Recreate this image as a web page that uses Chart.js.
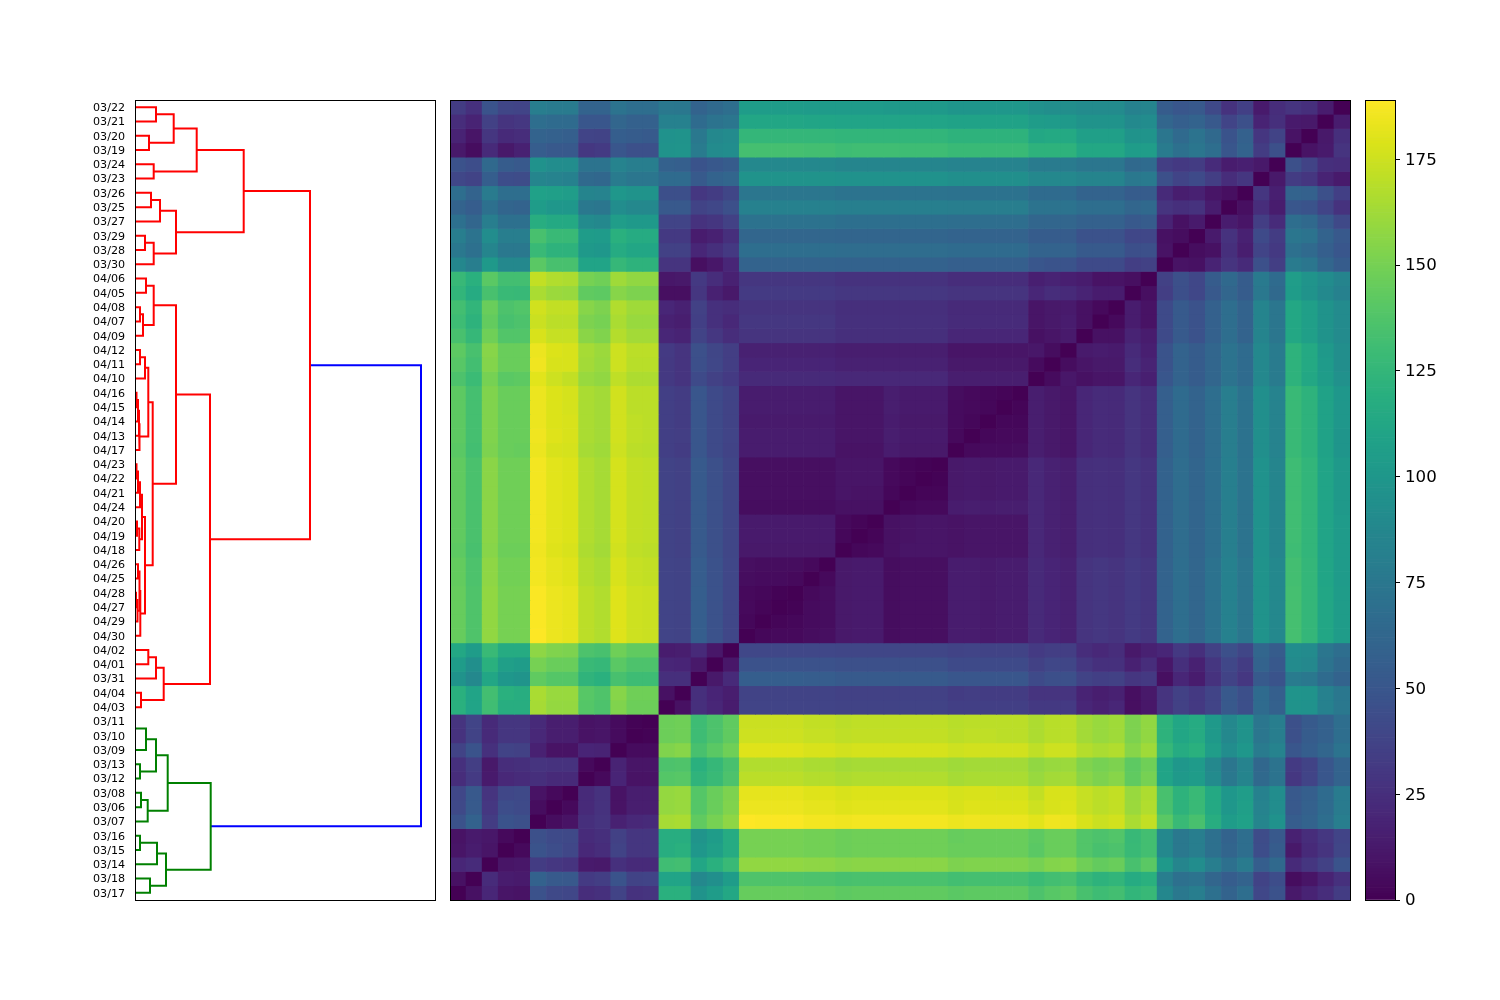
<!DOCTYPE html>
<html>
<head>
<meta charset="utf-8">
<script src="https://cdn.jsdelivr.net/npm/chart.js@4"></script>
<style>
html,body{margin:0;padding:0;background:#fff;width:1500px;height:1000px;overflow:hidden}
canvas{position:absolute;display:block}
</style>
</head>
<body>
<canvas id="dendro" width="351" height="802" style="left:85px;top:99px;width:351px;height:802px"></canvas>
<canvas id="heat" width="902" height="802" style="left:449px;top:99px;width:902px;height:802px"></canvas>
<canvas id="cbar" width="100" height="822" style="left:1364px;top:89px;width:100px;height:822px"></canvas>
<script>
// Leaf order, top to bottom. The heatmap's columns run through it in reverse.
const leaves = ["03/22","03/21","03/20","03/19","03/24","03/23","03/26","03/25","03/27","03/29","03/28","03/30","04/06","04/05","04/08","04/07","04/09","04/12","04/11","04/10","04/16","04/15","04/14","04/13","04/17","04/23","04/22","04/21","04/24","04/20","04/19","04/18","04/26","04/25","04/28","04/27","04/29","04/30","04/02","04/01","03/31","04/04","04/03","03/11","03/10","03/09","03/13","03/12","03/08","03/06","03/07","03/16","03/15","03/14","03/18","03/17"];

// Dendrogram merges: child ids (below 56 a leaf, otherwise 56 + merge index), merge height, colour group.
const mergeLeft  = [0,2,56,4,58,6,61,9,63,62,60,12,14,68,67,17,71,20,73,74,75,72,25,78,79,29,81,80,32,34,85,84,87,83,77,70,38,92,41,93,91,66,43,98,46,99,48,102,101,51,105,54,106,104,97];
const mergeRight = [1,3,57,5,59,7,8,10,11,64,65,13,15,16,69,18,19,21,22,23,24,76,26,27,28,30,31,82,33,35,36,86,37,88,89,90,39,40,42,94,95,96,44,45,47,100,49,50,103,52,53,55,107,108,109];
const mergeHeight= [21,14,38.7,18.7,61.7,16,25,10,18.7,41,108.7,11,5,8,18.7,5,10,1.5,3,4,4.5,13.3,1.5,3,5,2,4.3,7,3,1,2.5,4.5,5.3,10,17.7,41,13.3,21,6,28.7,75,175,0,11,5,21,6,12.7,32.7,5,22,15,31,75.7,286];
const mergeGroup = ["r","r","r","r","r","r","r","r","r","r","r","r","r","r","r","r","r","r","r","r","r","r","r","r","r","r","r","r","r","r","r","r","r","r","r","r","r","r","r","r","r","r","g","g","g","g","g","g","g","g","g","g","g","g","b"];

// Upper triangle of the distance matrix, in leaf order: row i holds j = i+1 ... 55.
const distanceRows = [
[14,25,28,24,13,35,27,41,52,50,54,85,83,90,90,90,93,93,95,100,100,100,99,99,102,102,102,102,103,103,103,103,103,104,104,104,104,68,64,60,75,76,68,68,72,60,60,78,78,80,38,39,48,26,33],
[12,13,25,18,46,38,52,60,57,62,91,89,97,97,97,102,103,104,109,109,109,109,109,110,110,110,110,110,110,110,111,111,112,112,112,112,74,72,66,83,83,58,58,62,50,50,66,66,68,30,28,36,18,24],
[9,37,29,58,48,64,72,65,74,98,97,106,106,106,114,114,113,122,122,122,122,122,124,124,124,124,124,124,124,125,125,125,125,125,125,90,88,76,97,96,53,54,56,37,38,57,58,60,24,22,29,10,18],
[46,33,60,50,68,74,70,78,105,104,113,113,113,122,122,122,128,128,128,128,128,130,130,130,131,131,131,130,132,132,133,133,133,133,92,90,78,98,97,46,46,50,32,30,52,52,55,17,12,22,6,12],
[12,16,14,23,33,31,34,66,64,74,74,74,78,78,78,84,84,84,84,84,86,86,86,86,86,86,86,88,88,88,88,88,88,54,51,48,57,58,80,80,84,72,72,92,92,96,52,54,64,44,47],
[29,24,34,42,38,46,77,76,85,85,85,88,88,88,94,94,94,94,94,96,96,96,96,96,96,96,97,97,97,97,97,97,62,60,53,66,66,74,74,78,63,64,83,84,86,43,44,56,37,40],
[7,10,17,15,22,54,54,60,60,60,66,66,66,71,71,71,71,71,72,72,72,72,72,72,72,74,74,74,74,74,74,39,33,30,45,45,97,97,100,84,85,105,106,108,68,68,78,60,68],
[14,27,25,28,64,62,68,68,68,72,72,72,80,80,80,80,80,81,81,81,81,81,81,81,83,83,83,83,83,83,46,40,37,52,52,88,88,92,74,76,100,100,104,60,61,70,55,60],
[13,8,18,54,52,58,58,58,62,62,62,68,68,68,68,68,69,69,69,69,69,69,69,71,71,71,71,71,71,36,29,27,38,38,102,102,105,88,90,114,114,118,70,70,80,62,70],
[6,8,40,40,47,47,47,54,54,54,60,60,60,60,60,61,61,61,61,61,61,61,62,62,62,62,62,62,25,17,14,31,31,116,116,120,103,104,128,128,134,80,80,92,72,80],
[9,46,45,53,53,53,60,60,60,66,66,66,66,66,67,67,67,67,67,67,67,68,68,68,68,68,68,31,25,20,36,36,112,112,116,100,102,122,122,128,76,76,86,70,76],
[36,34,42,42,42,48,48,50,57,57,57,57,57,59,59,59,59,59,59,59,60,60,60,60,60,60,20,11,7,28,28,122,122,126,110,110,134,134,141,88,88,102,80,87],
[7,9,9,14,16,18,16,24,24,24,24,24,27,27,27,27,27,27,27,29,29,29,29,29,29,17,24,31,12,11,158,158,162,148,150,166,167,172,132,132,141,120,127],
[14,14,18,22,24,20,28,28,28,28,28,30,30,30,30,30,30,30,32,32,32,32,32,32,12,17,29,7,7,152,152,155,142,143,160,161,165,127,128,134,116,124],
[4,8,13,12,10,22,22,22,22,22,25,25,25,25,25,25,25,28,28,28,28,28,28,24,26,36,17,20,162,162,167,152,155,172,172,176,138,136,146,124,132],
[8,14,12,10,23,23,23,23,23,26,26,26,26,26,26,26,30,30,30,30,30,30,21,26,35,15,17,160,160,165,150,152,170,170,174,136,134,144,122,130],
[13,10,8,20,20,20,20,20,25,25,25,25,25,25,25,28,28,28,28,28,28,24,30,37,18,20,163,163,168,153,156,173,173,178,138,138,148,126,134],
[6,11,10,10,10,10,10,15,15,15,15,15,15,15,17,17,17,17,17,17,34,39,46,28,32,170,170,175,161,164,178,179,184,146,146,155,134,142],
[5,12,12,12,12,12,17,17,17,17,17,17,17,19,19,19,19,19,19,34,40,45,28,31,169,169,175,160,163,178,178,185,146,146,154,132,140],
[15,15,15,15,15,21,21,21,21,21,21,21,22,22,22,22,22,22,32,36,42,28,31,166,166,171,158,160,172,175,181,142,141,150,129,136],
[2,3,4,6,13,13,13,15,10,10,10,14,14,14,14,14,14,37,42,50,33,35,170,170,176,163,165,177,179,184,146,146,153,133,142],
[3,4,5,13,13,13,15,10,10,10,14,14,14,14,14,14,37,42,50,33,35,170,170,176,163,165,177,179,184,146,146,153,133,142],
[3,5,12,12,12,14,10,10,10,13,13,13,13,13,13,37,42,50,33,35,170,171,176,163,165,178,179,184,146,146,153,133,142],
[4,13,13,13,15,10,10,10,14,14,14,14,14,14,38,42,50,34,35,170,171,176,163,165,178,180,185,146,146,153,133,142],
[12,12,12,14,9,9,9,14,14,14,14,14,14,37,42,50,33,35,169,170,175,162,164,177,178,184,145,146,152,132,141],
[1,2,4,10,10,10,7,7,7,7,7,7,39,46,53,36,37,171,172,177,164,167,179,181,186,148,148,156,135,143],
[2,4,10,10,10,7,7,7,7,7,7,39,46,53,36,37,171,172,177,164,167,179,181,186,148,148,156,135,143],
[3,9,9,10,7,7,7,7,7,7,39,46,53,36,37,171,172,177,164,167,179,181,186,148,148,156,135,143],
[8,8,8,6,6,6,6,6,6,39,46,53,36,37,171,172,177,164,167,179,181,186,148,148,156,135,143],
[2,4,13,13,13,13,13,13,39,46,53,36,37,171,172,177,164,167,179,181,186,148,148,156,135,143],
[3,13,13,13,13,13,13,39,46,53,36,37,171,172,177,164,167,179,181,186,148,148,156,135,143],
[12,12,12,12,12,12,39,46,53,36,37,170,171,176,163,166,178,180,185,147,147,155,134,142],
[4,6,6,6,7,40,47,55,37,38,172,173,178,165,168,180,182,186,149,149,157,136,144],
[4,5,5,6,40,47,55,37,38,172,173,178,165,168,180,182,186,149,149,157,136,144],
[1,3,4,40,47,56,37,38,174,175,180,167,170,182,184,188,150,150,158,137,145],
[2,4,40,47,56,37,38,174,175,180,167,170,182,184,188,150,150,158,137,145],
[3,40,47,56,37,38,174,175,180,167,170,182,184,188,150,150,158,137,145],
[40,47,56,37,38,174,175,180,167,170,182,184,189,150,150,158,137,145],
[11,22,15,14,143,143,148,134,136,152,153,157,116,116,128,104,113],
[12,19,20,136,136,141,126,128,146,146,150,104,106,120,94,104],
[25,25,130,130,134,120,123,139,139,143,98,100,112,88,97],
[8,148,148,155,137,140,160,160,165,118,120,132,110,120],
[147,147,153,136,139,159,159,164,118,118,131,110,120],
[1,5,10,9,15,15,22,29,29,22,38,28],
[5,10,9,15,15,21,29,29,22,37,27],
[18,19,9,9,17,36,37,26,48,37],
[4,27,27,28,25,24,12,34,26],
[22,22,25,23,21,13,32,24],
[4,9,41,40,28,52,40],
[6,42,44,30,53,41],
[46,48,33,59,47],
[4,11,13,9],
[10,14,10],
[23,20],
[8]
];

const colorbarMax = 189;
const colorbarTicks = [0,25,50,75,100,125,150,175];
const viridis = ["#440154","#481567","#482677","#453781","#404788","#39568C","#33638D","#2D708E","#287D8E","#238A8D","#1F968B","#20A387","#29AF7F","#3CBB75","#55C667","#73D055","#95D840","#B8DE29","#DCE319","#FDE725"];

const rgb = viridis.map(h => [1,3,5].map(k => parseInt(h.slice(k,k+2),16)));
function colourOf(v){
  const t = Math.max(0,Math.min(1,v/colorbarMax))*(rgb.length-1);
  const a = Math.min(rgb.length-2,Math.floor(t)), f = t-a;
  const c = rgb[a].map((x,k)=>Math.round(x+(rgb[a+1][k]-x)*f));
  return `rgb(${c[0]},${c[1]},${c[2]})`;
}
function dist(i,j){
  if(i===j) return 0;
  const a=Math.min(i,j), b=Math.max(i,j);
  return distanceRows[a][b-a-1];
}
const framePlugin = {
  id:'frame',
  afterDraw(chart){
    const {ctx,chartArea:a} = chart;
    ctx.save();
    ctx.strokeStyle='#000';ctx.lineWidth=1;
    ctx.strokeRect(Math.round(a.left)+0.5,Math.round(a.top)+0.5,Math.round(a.right-a.left),Math.round(a.bottom-a.top));
    ctx.restore();
  }
};
Chart.defaults.animation=false;
Chart.defaults.font.family='"DejaVu Sans"';
Chart.defaults.plugins.legend.display=false;
Chart.defaults.plugins.tooltip.enabled=false;
Chart.defaults.devicePixelRatio=1;

// ---- Dendrogram
const palette = {r:'#ff0000',g:'#008000',b:'#0000ff'};
const nodeY = id => id<56 ? id+0.5 : nodes[id-56].y;
const nodeH = id => id<56 ? 0 : nodes[id-56].h;
const nodes = [];
mergeHeight.forEach((h,k)=>{
  nodes.push({h, y:(nodeY(mergeLeft[k])+nodeY(mergeRight[k]))/2});
});
const dendroSets = mergeHeight.map((h,k)=>{
  const a=mergeLeft[k], b=mergeRight[k];
  return {
    data:[{x:nodeH(a),y:nodeY(a)},{x:h,y:nodeY(a)},{x:h,y:nodeY(b)},{x:nodeH(b),y:nodeY(b)}],
    showLine:true,borderColor:palette[mergeGroup[k]],borderWidth:2,pointRadius:0,tension:0,fill:false,
    borderCapStyle:'butt',borderJoinStyle:'miter'
  };
});
new Chart(document.getElementById('dendro'),{
  type:'scatter',
  data:{datasets:dendroSets},
  plugins:[framePlugin],
  options:{
    responsive:false,
    layout:{padding:{top:1,bottom:1,right:1,left:0}},
    scales:{
      x:{type:'linear',min:0,max:300,display:false},
      y:{type:'linear',min:0,max:56,reverse:true,
        afterBuildTicks(s){s.ticks=leaves.map((_,i)=>({value:i+0.5}));},
        afterFit(s){s.width=50;s.paddingTop=0;s.paddingBottom=0;},
        border:{display:false},
        grid:{display:false,drawTicks:false},
        ticks:{autoSkip:false,padding:10,labelOffset:1,color:'#000',font:{size:11.1},maxRotation:0,
          callback(v){return leaves[Math.round(v-0.5)];}}
      }
    }
  }
});

// ---- Heatmap: one floating-bar dataset per row
const columns = leaves.slice().reverse();
const heatSets = leaves.map((_,i)=>({
  grouped:false,
  data:columns.map(()=>[i,i+1]),
  backgroundColor:columns.map((_,c)=>colourOf(dist(i,55-c))),
  borderWidth:0,barPercentage:1,categoryPercentage:1
}));
new Chart(document.getElementById('heat'),{
  type:'bar',
  data:{labels:columns,datasets:heatSets},
  plugins:[framePlugin],
  options:{
    responsive:false,
    layout:{padding:1},
    scales:{
      x:{type:'category',display:false},
      y:{type:'linear',min:0,max:56,reverse:true,display:false}
    }
  }
});

// ---- Colour bar
const steps = 256;
const barSets = Array.from({length:steps},(_,k)=>{
  const lo=k*colorbarMax/steps, hi=(k+1)*colorbarMax/steps;
  return {grouped:false,data:[[lo,hi]],backgroundColor:colourOf((lo+hi)/2),borderWidth:0,barPercentage:1,categoryPercentage:1};
});
new Chart(document.getElementById('cbar'),{
  type:'bar',
  data:{labels:['v'],datasets:barSets},
  plugins:[framePlugin],
  options:{
    responsive:false,
    layout:{padding:{top:11,bottom:11,left:1,right:0}},
    scales:{
      x:{type:'category',display:false},
      y:{type:'linear',position:'right',min:0,max:colorbarMax,
        afterBuildTicks(s){s.ticks=colorbarTicks.map(v=>({value:v}));},
        afterFit(s){s.width=69;s.paddingTop=0;s.paddingBottom=0;},
        border:{display:false},
        grid:{drawOnChartArea:false,drawTicks:true,tickLength:5,color:'#000',tickColor:'#000',tickWidth:1},
        ticks:{padding:5,labelOffset:1,color:'#000',font:{size:16.67},maxRotation:0}
      }
    }
  }
});
</script>
</body>
</html>
